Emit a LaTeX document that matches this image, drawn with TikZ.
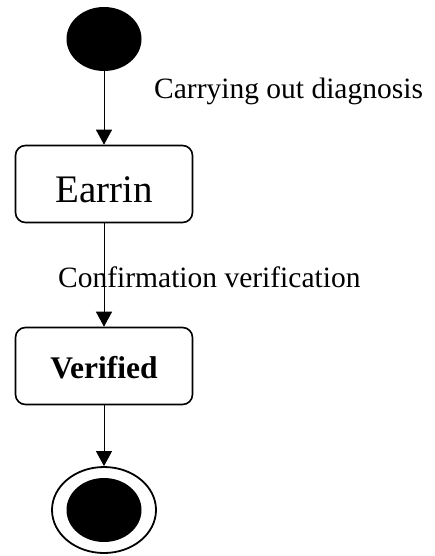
\documentclass[tikz,border=0pt]{standalone}
\usepackage{fontspec}
\setmainfont{Liberation Serif}
\usetikzlibrary{arrows.meta, shapes.geometric}
\tikzset{>={Triangle[width=16pt,length=15pt]}}

\begin{document}
\begin{tikzpicture}[
    x = 1pt, y = -1pt,
    state/.style = {draw, line width=1.6pt, rounded corners=10pt,
        minimum width=177pt, minimum height=77pt, inner sep=0pt,
        text depth=0pt},
    dot/.style = {ellipse, fill=black, minimum width=75pt,
        minimum height=64pt, inner sep=0pt},
    trans/.style = {->, line width=0.9pt},
    lbl/.style = {anchor=base west, inner sep=0pt,
        font=\fontsize{29.5}{29.5}\selectfont}
  ]
  \useasboundingbox (0,0) rectangle (435,556);

  \node[dot] (START) at (104,39) {};
  \node[state, text height=36pt, font=\fontsize{39}{39}\selectfont]
    (EARRIN) at (104,184) {Earrin};
  \node[state, text height=24pt, font=\fontsize{31.5}{31.5}\selectfont\bfseries]
    (VERIFIED) at (104,366) {Verified};
  \node[ellipse, draw, line width=1.8pt, minimum width=104pt,
    minimum height=86pt, inner sep=0pt] (END) at (104,510) {};
  \node[dot] (ENDDOT) at (104,510) {};

  \draw[trans] (START) -- (EARRIN);
  \draw[trans] (EARRIN) -- (VERIFIED);
  \draw[trans] (VERIFIED) -- (END);

  \node[lbl] (DIAGNOSIS) at (154,99) {Carrying out diagnosis};
  \node[lbl] (CONFIRM) at (58,287) {Confirmation verification};
\end{tikzpicture}
\end{document}
